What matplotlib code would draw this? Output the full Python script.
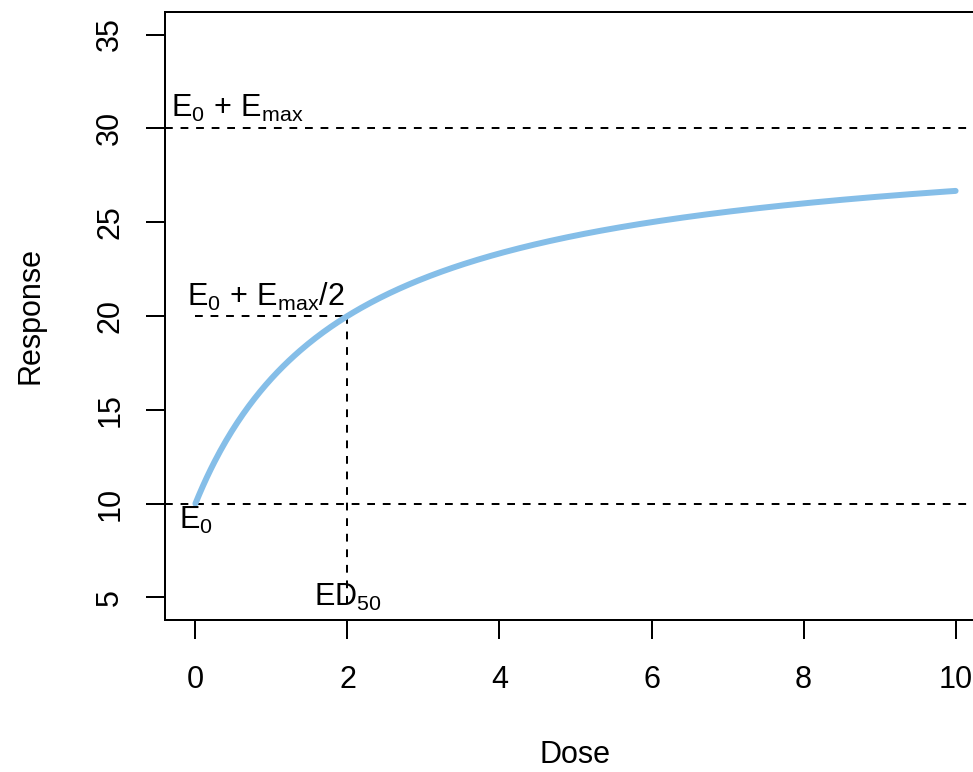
import numpy as np
import matplotlib
matplotlib.use("Agg")
import matplotlib.pyplot as plt

plt.rcParams["font.family"] = ["Liberation Sans", "DejaVu Sans"]
plt.rcParams["mathtext.fontset"] = "custom"
plt.rcParams["mathtext.rm"] = "Liberation Sans"
plt.rcParams["mathtext.it"] = "Liberation Sans:italic"
plt.rcParams["lines.scale_dashes"] = False

# Emax model parameters
E0 = 10
Emax = 20
ED50 = 2
dose_max = 10

dose = np.linspace(0, dose_max, 400)
response = E0 + Emax * dose / (ED50 + dose)

x_ticks = [0, 2, 4, 6, 8, 10]
y_ticks = [5, 10, 15, 20, 25, 30, 35]

W, H = 973, 772
fig = plt.figure(figsize=(W / 100, H / 100), dpi=100)
left, right, top, bottom = 165, 986, 12, 620
ax = fig.add_axes([left / W, 1 - bottom / H, (right - left) / W, (bottom - top) / H])
ax.set_xlim(-0.4, 10.4)
ax.set_ylim(3.8, 36.2)

lw = 1.44
dash = (0, (5.6, 5.6))

ax.plot(dose, response, color="#85BEE8", lw=4.3, solid_capstyle="round", zorder=3)
ax.axhline(E0 + Emax, color="black", lw=lw, linestyle=dash)
ax.axhline(E0, color="black", lw=lw, linestyle=dash)
ax.plot([0, ED50], [E0 + Emax / 2] * 2, color="black", lw=lw, linestyle=dash)
ax.plot([ED50, ED50], [E0 + Emax / 2, 4.5], color="black", lw=lw, linestyle=dash)

fs = 22
ax.text(-0.32, E0 + Emax + 1.05, r"$\mathrm{E_0\,+\,E_{max}}$", fontsize=fs, ha="left", va="center")
ax.text(0.92, E0 + Emax / 2 + 1.0, r"$\mathrm{E_0\,+\,E_{max}/2}$", fontsize=fs, ha="center", va="center")
ax.text(0, E0 - 0.9, r"$\mathrm{E_0}$", fontsize=fs, ha="center", va="center")
ax.text(ED50, 5.0, r"$\mathrm{ED_{50}}$", fontsize=fs, ha="center", va="center")

ax.set_xticks(x_ticks)
ax.set_yticks(y_ticks)
ax.set_xticklabels([str(t) for t in x_ticks])
ax.set_yticklabels([str(t) for t in y_ticks], rotation=90, va="center")
ax.tick_params(axis="both", length=13.7, width=lw, labelsize=fs, direction="out")
ax.tick_params(axis="x", pad=19)
ax.tick_params(axis="y", pad=15)
for s in ax.spines.values():
    s.set_linewidth(lw)

fig.text(575.5 / W, 1 - 755 / H, "Dose", fontsize=fs, ha="center", va="center")
fig.text(30 / W, 1 - 316 / H, "Response", fontsize=fs, ha="center", va="center", rotation=90)

fig.savefig("out.png", dpi=100)
